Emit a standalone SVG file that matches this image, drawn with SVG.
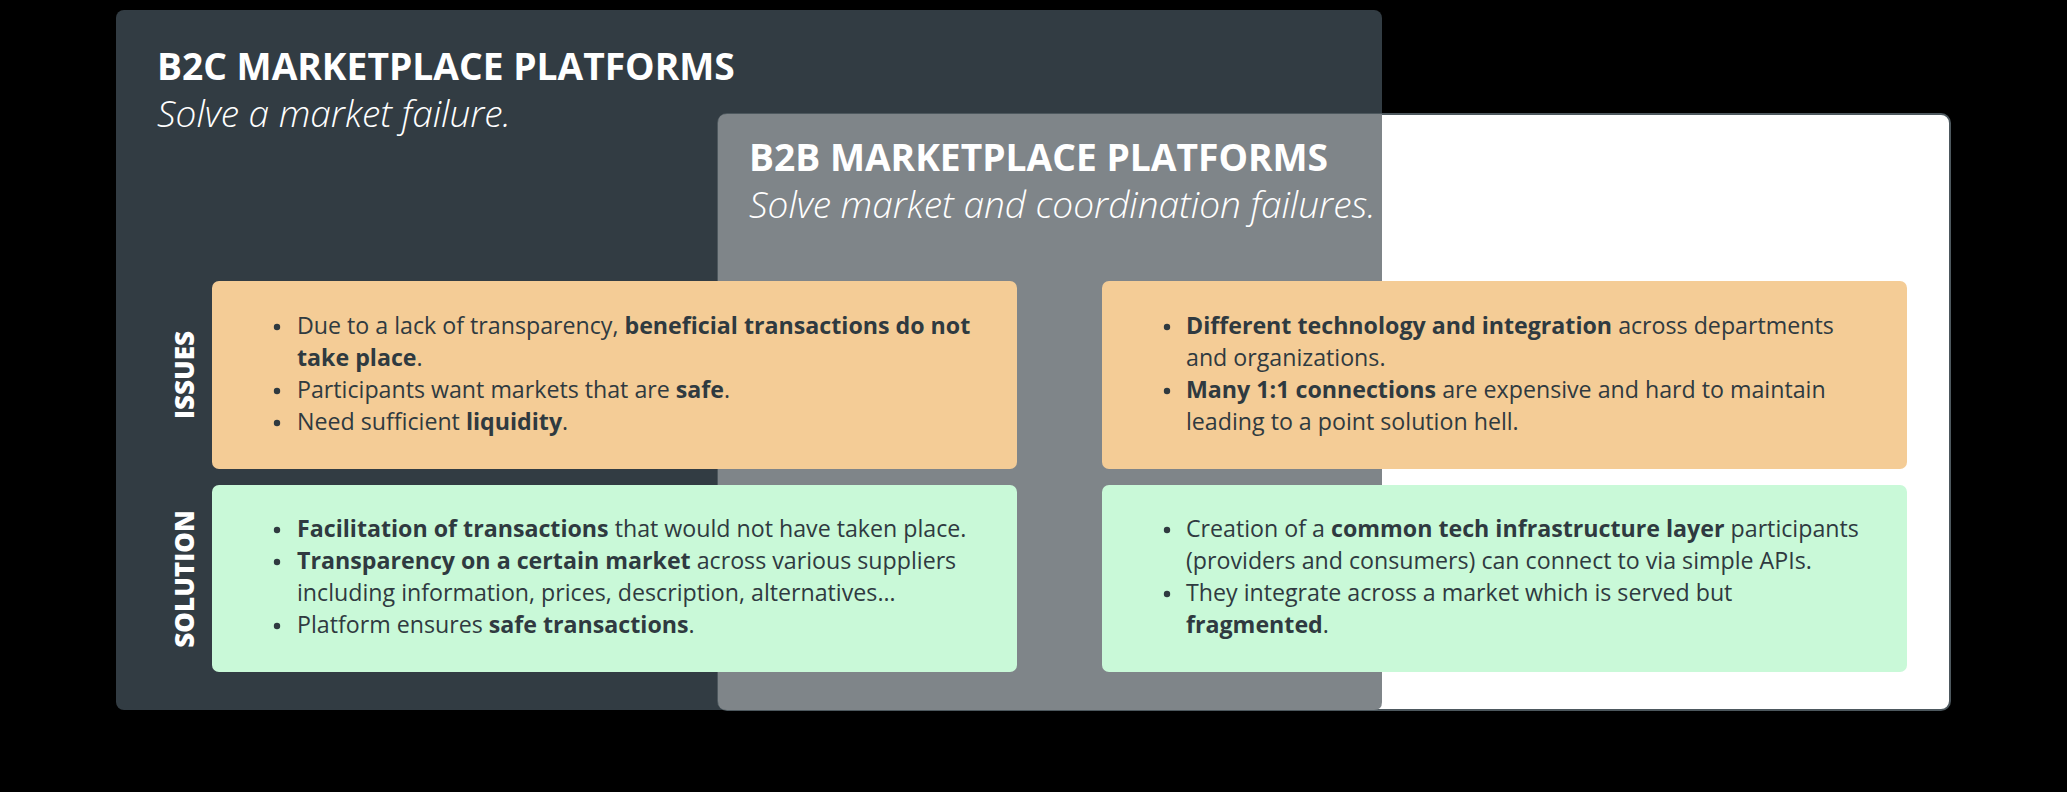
<svg xmlns="http://www.w3.org/2000/svg" width="2067" height="792" viewBox="0 0 2067 792">
<style>
.title{font-family:"Open Sans","Liberation Sans",sans-serif;font-weight:700;font-size:37.2px;fill:#ffffff}
.sub{font-family:"Open Sans","Liberation Sans",sans-serif;font-style:italic;font-weight:300;font-size:37px;fill:#ffffff}
.body{font-family:"Open Sans","Liberation Sans",sans-serif;font-size:23.2px;fill:#2f3a40}
.body tspan.b{font-weight:700}
.dot{fill:#2f3a40}
.side{font-family:"Open Sans","Liberation Sans",sans-serif;font-weight:800;font-size:26px;fill:#ffffff;text-anchor:middle}
.issue{fill:#f4cc96}
.sol{fill:#c9f9d8}
</style>
<rect width="2067" height="792" fill="#000000"/>
<g id="b2c">
<rect x="116" y="10" width="1266" height="700" rx="8" fill="#323c43"/>
<text class="title" x="157" y="80">B2C MARKETPLACE PLATFORMS</text>
<text class="sub" x="157" y="127">Solve a market failure.</text>
</g>
<g id="b2b">
<rect x="718" y="114" width="1232" height="596" rx="9" fill="#ffffff" stroke="#4d585e" stroke-width="2"/>
<path d="M727,114 H1382 V702 Q1382,710 1374,710 H727 Q718,710 718,701 V123 Q718,114 727,114 Z" fill="#7f8589"/>
<text class="title" x="749" y="171">B2B MARKETPLACE PLATFORMS</text>
<text class="sub" x="749" y="218">Solve market and coordination failures.</text>
</g>
<g id="label-issues">
<text class="side" transform="translate(194,375) rotate(-90)">ISSUES</text>
</g>
<g id="label-solution">
<text class="side" transform="translate(194,579) rotate(-90)">SOLUTION</text>
</g>
<g id="b2c-issues">
<rect class="issue" x="212" y="281" width="805" height="188" rx="7"/>
<circle class="dot" cx="277" cy="327" r="3.2"/>
<text class="body" x="297" y="334">Due to a lack of transparency, <tspan class="b">beneficial transactions do not</tspan></text>
<text class="body" x="297" y="366"><tspan class="b">take place</tspan>.</text>
<circle class="dot" cx="277" cy="391" r="3.2"/>
<text class="body" x="297" y="398">Participants want markets that are <tspan class="b">safe</tspan>.</text>
<circle class="dot" cx="277" cy="423" r="3.2"/>
<text class="body" x="297" y="430">Need sufficient <tspan class="b">liquidity</tspan>.</text>
</g>
<g id="b2c-solution">
<rect class="sol" x="212" y="485" width="805" height="187" rx="7"/>
<circle class="dot" cx="277" cy="530" r="3.2"/>
<text class="body" x="297" y="537"><tspan class="b">Facilitation of transactions</tspan> that would not have taken place.</text>
<circle class="dot" cx="277" cy="562" r="3.2"/>
<text class="body" x="297" y="569"><tspan class="b">Transparency on a certain market</tspan> across various suppliers</text>
<text class="body" x="297" y="601">including information, prices, description, alternatives…</text>
<circle class="dot" cx="277" cy="626" r="3.2"/>
<text class="body" x="297" y="633">Platform ensures <tspan class="b">safe transactions</tspan>.</text>
</g>
<g id="b2b-issues">
<rect class="issue" x="1102" y="281" width="805" height="188" rx="7"/>
<circle class="dot" cx="1167" cy="327" r="3.2"/>
<text class="body" x="1186" y="334"><tspan class="b">Different technology and integration</tspan> across departments</text>
<text class="body" x="1186" y="366">and organizations.</text>
<circle class="dot" cx="1167" cy="391" r="3.2"/>
<text class="body" x="1186" y="398"><tspan class="b">Many 1:1 connections</tspan> are expensive and hard to maintain</text>
<text class="body" x="1186" y="430">leading to a point solution hell.</text>
</g>
<g id="b2b-solution">
<rect class="sol" x="1102" y="485" width="805" height="187" rx="7"/>
<circle class="dot" cx="1167" cy="530" r="3.2"/>
<text class="body" x="1186" y="537">Creation of a <tspan class="b">common tech infrastructure layer</tspan> participants</text>
<text class="body" x="1186" y="569">(providers and consumers) can connect to via simple APIs.</text>
<circle class="dot" cx="1167" cy="594" r="3.2"/>
<text class="body" x="1186" y="601">They integrate across a market which is served but</text>
<text class="body" x="1186" y="633"><tspan class="b">fragmented</tspan>.</text>
</g>
<g id="connectors"></g>
</svg>
